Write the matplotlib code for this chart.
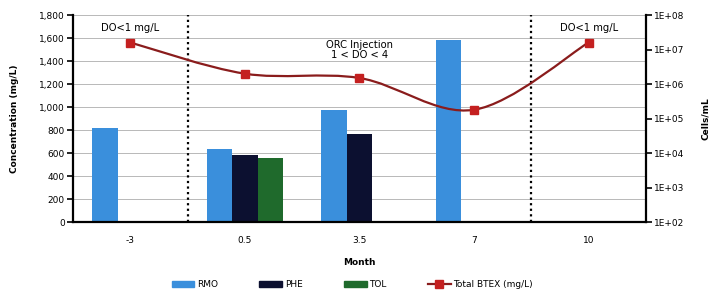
import matplotlib.pyplot as plt
import numpy as np
from matplotlib.path import Path
from matplotlib.patches import PathPatch, Patch
from matplotlib.lines import Line2D

months = ['-3', '0.5', '3.5', '7', '10']
rmo = [820, 635, 975, 1580, 0]
phe = [0, 580, 770, 0, 0]
tol = [0, 560, 0, 0, 0]
btex = [1.6e7, 2.0e6, 1.5e6, 1.8e5, 1.6e7]

c_rmo = '#3a8fdc'
c_phe = '#0c1030'
c_tol = '#1f6a2c'
c_line = '#8a1c1c'
c_mark = '#c42020'

plt.rcParams['font.family'] = 'DejaVu Sans'
plt.rcParams['font.size'] = 6.5

fig = plt.figure(figsize=(7.09, 2.95), dpi=100)
ax = fig.add_axes([0.103, 0.247, 0.808, 0.702])

x = np.arange(len(months))
w = 0.223
ax.bar(x - w, rmo, w, color=c_rmo, zorder=2)
ax.bar(x, phe, w, color=c_phe, zorder=2)
ax.bar(x + w, tol, w, color=c_tol, zorder=2)

ax.set_xlim(-0.5, 4.5)
ax.set_ylim(0, 1800)
ax.set_yticks(range(0, 1801, 200))
ax.set_yticklabels(['{:,}'.format(v) for v in range(0, 1801, 200)])
ax.set_xticks(x)
ax.set_xticklabels(months)
ax.set_xticks(np.arange(-0.5, 4.6, 1), minor=True)
ax.tick_params(axis='x', which='major', length=0, pad=10)
ax.tick_params(axis='x', which='minor', length=4, width=1.2, direction='out')
ax.tick_params(axis='y', length=4, width=1.2, pad=2)
ax.grid(axis='y', color='#b8b8b8', linewidth=0.7, zorder=0)
ax.spines['top'].set_visible(False)
ax.spines['right'].set_visible(False)
for s in ['left', 'bottom']:
    ax.spines[s].set_linewidth(1.6)
ax.set_ylabel('Concentration (mg/L)', fontweight='bold', labelpad=14)
ax.set_xlabel('Month', fontweight='bold', labelpad=9)

# dotted separators between phases
for xb in [0.5, 3.5]:
    ax.axvline(xb, color='black', linestyle=(0, (1, 1.5)), linewidth=1.6, zorder=3)

ax2 = ax.twinx()
ax2.set_yscale('log')
ax2.set_ylim(1e2, 1e8)
ax2.set_yticks([10 ** k for k in range(2, 9)])
ax2.set_yticklabels(['1E+0%d' % k for k in range(2, 9)])
ax2.minorticks_off()
ax2.tick_params(axis='y', length=4, width=1.2, pad=2)
for s in ['top', 'left', 'bottom']:
    ax2.spines[s].set_visible(False)
ax2.spines['right'].set_linewidth(1.6)
ax2.set_ylabel('Cells/mL', fontweight='bold', labelpad=12)

# smooth line through the points (Catmull-Rom in log space)
ly = np.log10(btex)
verts = [(x[0], btex[0])]
codes = [Path.MOVETO]
for i in range(len(x) - 1):
    p0 = (x[max(i - 1, 0)], ly[max(i - 1, 0)])
    p1 = (x[i], ly[i])
    p2 = (x[i + 1], ly[i + 1])
    p3 = (x[min(i + 2, len(x) - 1)], ly[min(i + 2, len(x) - 1)])
    c1 = (p1[0] + (p2[0] - p0[0]) / 6, p1[1] + (p2[1] - p0[1]) / 6)
    c2 = (p2[0] - (p3[0] - p1[0]) / 6, p2[1] - (p3[1] - p1[1]) / 6)
    for c in (c1, c2, p2):
        verts.append((c[0], 10 ** c[1]))
        codes.append(Path.CURVE4)
ax2.add_patch(PathPatch(Path(verts, codes), facecolor='none', edgecolor=c_line,
                        linewidth=1.6, zorder=4))
ax2.plot(x, btex, linestyle='none', marker='s', markersize=6,
         markerfacecolor=c_mark, markeredgecolor=c_mark, zorder=5)

ax.text(0, 1690, 'DO<1 mg/L', ha='center', va='center', fontsize=7.2, zorder=6)
ax.text(2, 1500, 'ORC Injection\n1 < DO < 4', ha='center', va='center',
        fontsize=7.2, linespacing=1.0, zorder=6)
ax.text(4, 1690, 'DO<1 mg/L', ha='center', va='center', fontsize=7.2, zorder=6)

handles = [Patch(color=c_rmo), Patch(color=c_phe), Patch(color=c_tol),
           Line2D([], [], color=c_line, linewidth=1.6, marker='s', markersize=6,
                  markerfacecolor=c_mark, markeredgecolor=c_mark)]
labels = ['RMO', 'PHE', 'TOL', 'Total BTEX (mg/L)']
fig.legend(handles, labels, loc='center', bbox_to_anchor=(0.497, 0.035), ncol=4,
           frameon=False, handlelength=2.5, handleheight=0.6, columnspacing=4.6,
           handletextpad=0.3)

fig.savefig('out.png', dpi=100)
